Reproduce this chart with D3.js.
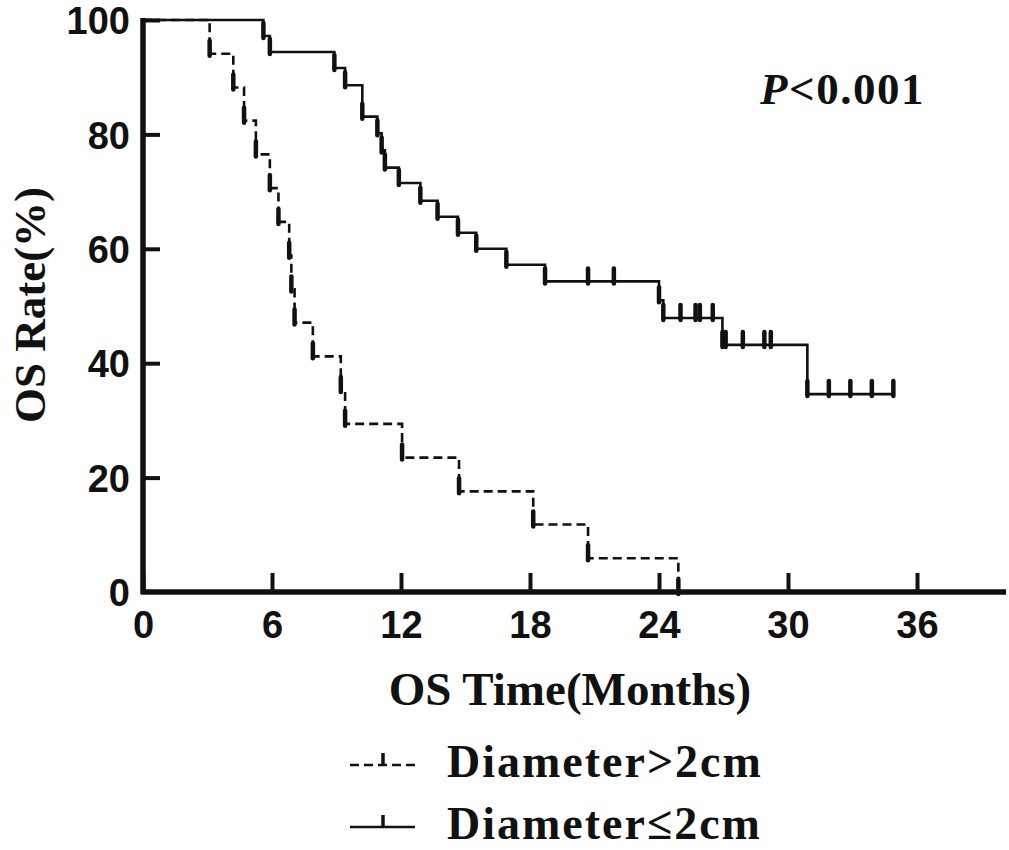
<!DOCTYPE html>
<html><head><meta charset="utf-8">
<script src="https://cdn.jsdelivr.net/npm/d3@7/dist/d3.min.js"></script>
<style>body{margin:0;background:#fff}svg{display:block}</style>
</head><body>
<script>
// ---- data ----
const xTicks = [0, 6, 12, 18, 24, 30, 36];
const yTicks = [0, 20, 40, 60, 80, 100];
// Diameter>2cm (dashed): event times (months) and survival after each event (%)
const bigTimes  = [0, 3.1, 4.2, 4.7, 5.25, 5.9, 6.3, 6.8, 6.9, 7.05, 7.9, 9.2, 9.4, 12.05, 14.7, 18.15, 20.7, 24.9];
const bigSurv   = [100, 94.1, 88.2, 82.4, 76.5, 70.6, 64.7, 58.8, 52.9, 47.1, 41.2, 35.3, 29.4, 23.5, 17.6, 11.8, 5.9, 0];
const bigEnd = 24.9;
const bigCensor = [];
// Diameter≤2cm (solid)
const smallTimes = [0, 5.6, 5.9, 8.9, 9.4, 10.2, 10.9, 11.1, 11.25, 11.9, 12.9, 13.7, 14.65, 15.5, 16.9, 18.7, 24.0, 24.2, 26.95, 30.9];
const smallSurv  = [100, 97.2, 94.4, 91.6, 88.6, 83.1, 80.2, 77.2, 74.2, 71.5, 68.4, 65.6, 62.8, 60.0, 57.2, 54.3, 51.0, 47.9, 43.2, 34.6];
const smallEnd = 34.9;
const smallCensor = [20.7, 21.9, 25.0, 25.7, 25.9, 26.5, 27.1, 27.9, 28.9, 29.2, 31.9, 32.9, 33.9, 34.9];

const W = 1009, H = 850;
const svg = d3.select("body").append("svg").attr("width", W).attr("height", H);
const x = d3.scaleLinear().domain([0, 40]).range([143, 1003]);
const y = d3.scaleLinear().domain([0, 100]).range([592, 20]);

const sans = "'Liberation Sans', Arial, sans-serif";
const serif = "'Liberation Serif', 'Times New Roman', serif";

function stepPath(times, surv, end) {
  const pts = [];
  for (let i = 0; i < times.length; i++) {
    if (i > 0) pts.push([times[i], surv[i - 1]]);
    pts.push([times[i], surv[i]]);
  }
  pts.push([end, surv[surv.length - 1]]);
  return d3.line().x(d => x(d[0])).y(d => y(d[1]))(pts);
}
function survAt(times, surv, t) {
  let s = surv[0];
  for (let i = 0; i < times.length; i++) if (times[i] <= t) s = surv[i];
  return s;
}
function marks(g, times, surv, censor) {
  const m = [];
  for (let i = 1; i < times.length; i++) m.push([times[i], surv[i]]);
  censor.forEach(t => m.push([t, survAt(times, surv, t)]));
  g.selectAll(null).data(m).enter().append("line")
    .attr("x1", d => x(d[0])).attr("x2", d => x(d[0]))
    .attr("y1", d => y(d[1]) - 13).attr("y2", d => y(d[1]) + 2)
    .attr("stroke", "#111").attr("stroke-width", 4.5).attr("stroke-linecap", "round");
}

// curves
const gc = svg.append("g");
gc.append("path").attr("d", stepPath(smallTimes, smallSurv, smallEnd))
  .attr("fill", "none").attr("stroke", "#111").attr("stroke-width", 2.6);
gc.append("path").attr("d", stepPath(bigTimes, bigSurv, bigEnd))
  .attr("fill", "none").attr("stroke", "#111").attr("stroke-width", 2.6)
  .attr("stroke-dasharray", "9,5");
marks(gc, smallTimes, smallSurv, smallCensor);
marks(gc, bigTimes, bigSurv, bigCensor);

// axes
const xa = svg.append("g").attr("transform", "translate(0,592)")
  .call(d3.axisBottom(x).tickValues(xTicks).tickSize(0).tickFormat(d3.format("d")));
xa.select(".domain").remove();
xa.append("line").attr("x1", 141).attr("x2", 1006).attr("y1", 0).attr("y2", 0)
  .attr("stroke", "#111").attr("stroke-width", 5.5);
xa.selectAll(".tick").append("line").attr("y1", 0).attr("y2", -19)
  .attr("stroke", "#111").attr("stroke-width", 4);
xa.selectAll(".tick text").attr("y", 46).attr("dy", 0)
  .attr("font-family", sans).attr("font-weight", "bold").attr("font-size", 38)
  .attr("fill", "#111").attr("transform", null);

const ya = svg.append("g").attr("transform", "translate(143,0)")
  .call(d3.axisLeft(y).tickValues(yTicks).tickSize(0).tickFormat(d3.format("d")));
ya.select(".domain").remove();
ya.append("line").attr("x1", 0).attr("x2", 0).attr("y1", 18).attr("y2", 594)
  .attr("stroke", "#111").attr("stroke-width", 5.5);
ya.selectAll(".tick").filter(d => d > 0).append("line").attr("x1", 0).attr("x2", 17)
  .attr("stroke", "#111").attr("stroke-width", 4);
ya.selectAll(".tick text").attr("x", -13).attr("dy", "0.36em")
  .attr("font-family", sans).attr("font-weight", "bold").attr("font-size", 38).attr("fill", "#111");

// titles
svg.append("text").attr("x", 570).attr("y", 705).attr("text-anchor", "middle")
  .attr("font-family", serif).attr("font-weight", "bold").attr("font-size", 47).attr("fill", "#111")
  .text("OS Time(Months)");
svg.append("text").attr("transform", "translate(45,305) rotate(-90)").attr("text-anchor", "middle")
  .attr("font-family", serif).attr("font-weight", "bold").attr("font-size", 45).attr("fill", "#111")
  .text("OS Rate(%)");

// p value
const pt = svg.append("text").attr("x", 760).attr("y", 104)
  .attr("font-family", serif).attr("font-weight", "bold").attr("font-size", 45).attr("fill", "#111")
  .attr("letter-spacing", 1.5);
pt.append("tspan").attr("font-style", "italic").text("P");
pt.append("tspan").text("<0.001");

// legend
const legend = [
  {label: "Diameter>2cm", dash: "9,5", y: 765},
  {label: "Diameter\u22642cm", dash: null, y: 827}
];
const lg = svg.append("g");
legend.forEach(l => {
  lg.append("line").attr("x1", 350).attr("x2", 415).attr("y1", l.y).attr("y2", l.y)
    .attr("stroke", "#111").attr("stroke-width", 2.6).attr("stroke-dasharray", l.dash);
  lg.append("line").attr("x1", 383).attr("x2", 383).attr("y1", l.y - 12).attr("y2", l.y + 1)
    .attr("stroke", "#111").attr("stroke-width", 3.5);
  lg.append("text").attr("x", 447).attr("y", l.y + 12)
    .attr("font-family", serif).attr("font-weight", "bold").attr("font-size", 46).attr("fill", "#111")
    .attr("letter-spacing", 2).text(l.label);
});
</script>
</body></html>
